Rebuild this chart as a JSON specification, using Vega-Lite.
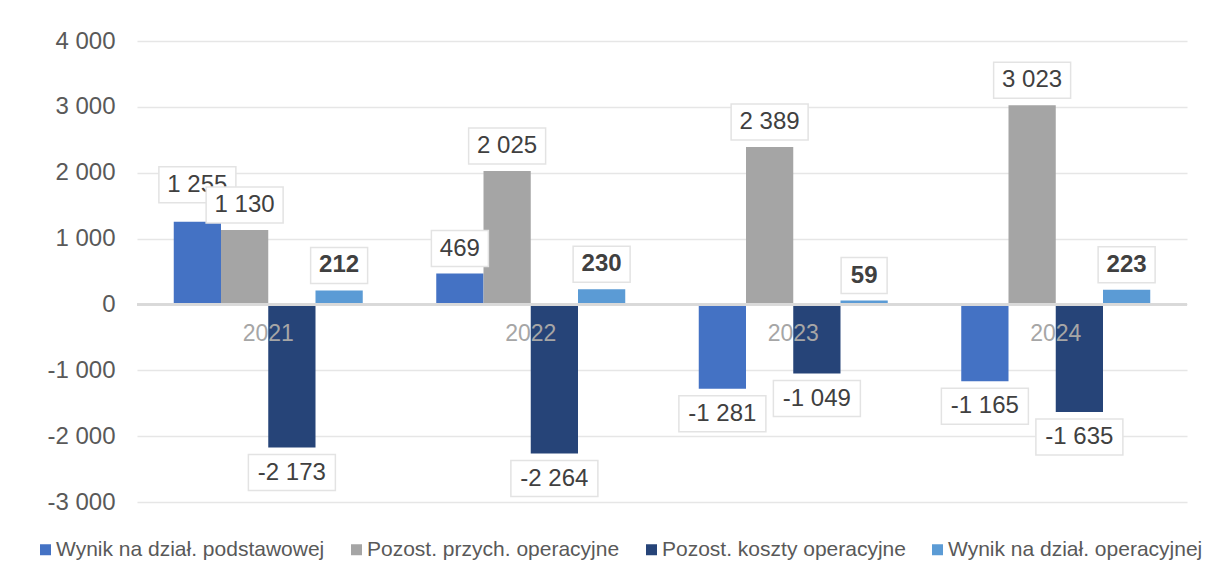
{
  "$schema": "https://vega.github.io/schema/vega-lite/v6.json",
  "autosize": "none",
  "width": 1050,
  "height": 461,
  "padding": {"left": 137, "top": 41, "right": 18, "bottom": 72},
  "background": "white",
  "config": {
    "locale": {"number": {"decimal": ",", "thousands": " ", "grouping": [3], "currency": ["", " zł"], "minus": "-"}},
    "view": {"stroke": null},
    "font": "Liberation Sans"
  },
  "data": {
    "values": [
      {"year": "2021", "series": "Wynik na dział. podstawowej", "value": 1255},
      {"year": "2021", "series": "Pozost. przych. operacyjne", "value": 1130},
      {"year": "2021", "series": "Pozost. koszty operacyjne", "value": -2173},
      {"year": "2021", "series": "Wynik na dział. operacyjnej", "value": 212},
      {"year": "2022", "series": "Wynik na dział. podstawowej", "value": 469},
      {"year": "2022", "series": "Pozost. przych. operacyjne", "value": 2025},
      {"year": "2022", "series": "Pozost. koszty operacyjne", "value": -2264},
      {"year": "2022", "series": "Wynik na dział. operacyjnej", "value": 230},
      {"year": "2023", "series": "Wynik na dział. podstawowej", "value": -1281},
      {"year": "2023", "series": "Pozost. przych. operacyjne", "value": 2389},
      {"year": "2023", "series": "Pozost. koszty operacyjne", "value": -1049},
      {"year": "2023", "series": "Wynik na dział. operacyjnej", "value": 59},
      {"year": "2024", "series": "Wynik na dział. podstawowej", "value": -1165},
      {"year": "2024", "series": "Pozost. przych. operacyjne", "value": 3023},
      {"year": "2024", "series": "Pozost. koszty operacyjne", "value": -1635},
      {"year": "2024", "series": "Wynik na dział. operacyjnej", "value": 223}
    ]
  },
  "encoding": {
    "x": {"field": "year", "type": "nominal", "axis": null, "scale": {"paddingInner": 0.28, "paddingOuter": 0.14}},
    "y": {"field": "value", "type": "quantitative", "scale": {"domain": [-3000, 4000], "nice": false, "zero": false}}
  },
  "layer": [
    {
      "mark": {"type": "bar"},
      "encoding": {
        "xOffset": {"field": "series", "type": "nominal", "sort": ["Wynik na dział. podstawowej", "Pozost. przych. operacyjne", "Pozost. koszty operacyjne", "Wynik na dział. operacyjnej"], "scale": {"paddingInner": 0, "paddingOuter": 0}},
        "y": {"field": "value", "type": "quantitative", "axis": {"values": [-3000, -2000, -1000, 0, 1000, 2000, 3000, 4000], "format": ",d", "title": null, "domain": false, "ticks": false, "labelPadding": 22, "labelFontSize": 24, "labelColor": "#595959", "labelFont": "Liberation Sans", "gridColor": "#e6e6e6", "gridWidth": 1.3, "labelFlush": false}},
        "color": {
          "field": "series", "type": "nominal",
          "scale": {"domain": ["Wynik na dział. podstawowej", "Pozost. przych. operacyjne", "Pozost. koszty operacyjne", "Wynik na dział. operacyjnej"], "range": ["#4472c4", "#a5a5a5", "#264478", "#5b9bd5"]},
          "legend": {"title": null, "orient": "none", "legendX": -102, "legendY": 498, "direction": "horizontal", "columns": 4, "symbolType": "square", "symbolSize": 121, "symbolStrokeWidth": 0, "labelFontSize": 21, "labelColor": "#595959", "labelFont": "Liberation Sans", "labelLimit": 0, "columnPadding": 21, "labelOffset": 0}
        }
      }
    },
    {
      "mark": {"type": "rule", "color": "#d9d9d9", "strokeWidth": 2},
      "encoding": {"x": {"value": 0}, "x2": {"value": 1050}, "y": {"datum": 0}}
    },
    {
      "transform": [{"filter": "datum.series == 'Wynik na dział. podstawowej'"}],
      "mark": {"type": "text", "fontSize": 23, "color": "#a6a6a6", "dy": 30, "baseline": "middle", "font": "Liberation Sans"},
      "encoding": {"y": {"datum": 0}, "text": {"field": "year"}}
    },
    {
      "transform": [{"filter": "datum.series == 'Wynik na dział. podstawowej'"}],
      "mark": {"type": "point", "filled": true, "fill": "white", "stroke": "#e3e3e3", "strokeWidth": 1.5, "size": 400, "opacity": 1},
      "encoding": {
        "xOffset": {"field": "series", "type": "nominal", "sort": ["Wynik na dział. podstawowej", "Pozost. przych. operacyjne", "Pozost. koszty operacyjne", "Wynik na dział. operacyjnej"]},
        "shape": {"condition": [
          {"test": "datum.year == '2021'", "value": "M-3.85,-5.5H3.85V-1.9H-3.85Z"},
          {"test": "datum.value <= -1000", "value": "M-4.35,0.7H4.35V4.3H-4.35Z"},
          {"test": "datum.value >= 1000", "value": "M-3.85,-4.3H3.85V-0.7H-3.85Z"},
          {"test": "datum.value >= 100", "value": "M-2.85,-4.3H2.85V-0.7H-2.85Z"}
        ], "value": "M-2.3,-4.3H2.3V-0.7H-2.3Z"}
      }
    },
    {
      "transform": [{"filter": "datum.series == 'Wynik na dział. podstawowej' && datum.year == '2021'"}],
      "mark": {"type": "text", "fontSize": 24, "color": "#404040", "dy": -37, "baseline": "middle", "font": "Liberation Sans"},
      "encoding": {
        "xOffset": {"field": "series", "type": "nominal", "sort": ["Wynik na dział. podstawowej", "Pozost. przych. operacyjne", "Pozost. koszty operacyjne", "Wynik na dział. operacyjnej"]},
        "text": {"field": "value", "type": "quantitative", "format": ",d"}
      }
    },
    {
      "transform": [{"filter": "datum.series == 'Wynik na dział. podstawowej' && datum.year != '2021' && datum.value >= 0"}],
      "mark": {"type": "text", "fontSize": 24, "color": "#404040", "dy": -25, "baseline": "middle", "font": "Liberation Sans"},
      "encoding": {
        "xOffset": {"field": "series", "type": "nominal", "sort": ["Wynik na dział. podstawowej", "Pozost. przych. operacyjne", "Pozost. koszty operacyjne", "Wynik na dział. operacyjnej"]},
        "text": {"field": "value", "type": "quantitative", "format": ",d"}
      }
    },
    {
      "transform": [{"filter": "datum.series == 'Wynik na dział. podstawowej' && datum.value < 0"}],
      "mark": {"type": "text", "fontSize": 24, "color": "#404040", "dy": 25, "baseline": "middle", "font": "Liberation Sans"},
      "encoding": {
        "xOffset": {"field": "series", "type": "nominal", "sort": ["Wynik na dział. podstawowej", "Pozost. przych. operacyjne", "Pozost. koszty operacyjne", "Wynik na dział. operacyjnej"]},
        "text": {"field": "value", "type": "quantitative", "format": ",d"}
      }
    },
    {
      "transform": [{"filter": "datum.series != 'Wynik na dział. podstawowej'"}],
      "mark": {"type": "point", "filled": true, "fill": "white", "stroke": "#e3e3e3", "strokeWidth": 1.5, "size": 400, "opacity": 1},
      "encoding": {
        "xOffset": {"field": "series", "type": "nominal", "sort": ["Wynik na dział. podstawowej", "Pozost. przych. operacyjne", "Pozost. koszty operacyjne", "Wynik na dział. operacyjnej"]},
        "shape": {"condition": [
          {"test": "datum.value <= -1000", "value": "M-4.35,0.7H4.35V4.3H-4.35Z"},
          {"test": "datum.value >= 1000", "value": "M-3.85,-4.3H3.85V-0.7H-3.85Z"},
          {"test": "datum.value >= 100", "value": "M-2.85,-4.3H2.85V-0.7H-2.85Z"}
        ], "value": "M-2.3,-4.3H2.3V-0.7H-2.3Z"}
      }
    },
    {
      "transform": [{"filter": "(datum.series == 'Pozost. przych. operacyjne' || datum.series == 'Pozost. koszty operacyjne') && datum.value >= 0"}],
      "mark": {"type": "text", "fontSize": 24, "color": "#404040", "dy": -25, "baseline": "middle", "font": "Liberation Sans"},
      "encoding": {
        "xOffset": {"field": "series", "type": "nominal", "sort": ["Wynik na dział. podstawowej", "Pozost. przych. operacyjne", "Pozost. koszty operacyjne", "Wynik na dział. operacyjnej"]},
        "text": {"field": "value", "type": "quantitative", "format": ",d"}
      }
    },
    {
      "transform": [{"filter": "(datum.series == 'Pozost. przych. operacyjne' || datum.series == 'Pozost. koszty operacyjne') && datum.value < 0"}],
      "mark": {"type": "text", "fontSize": 24, "color": "#404040", "dy": 25, "baseline": "middle", "font": "Liberation Sans"},
      "encoding": {
        "xOffset": {"field": "series", "type": "nominal", "sort": ["Wynik na dział. podstawowej", "Pozost. przych. operacyjne", "Pozost. koszty operacyjne", "Wynik na dział. operacyjnej"]},
        "text": {"field": "value", "type": "quantitative", "format": ",d"}
      }
    },
    {
      "transform": [{"filter": "datum.series == 'Wynik na dział. operacyjnej'"}],
      "mark": {"type": "text", "fontSize": 24, "fontWeight": "bold", "color": "#404040", "dy": -25, "baseline": "middle", "font": "Liberation Sans"},
      "encoding": {
        "xOffset": {"field": "series", "type": "nominal", "sort": ["Wynik na dział. podstawowej", "Pozost. przych. operacyjne", "Pozost. koszty operacyjne", "Wynik na dział. operacyjnej"]},
        "text": {"field": "value", "type": "quantitative", "format": ",d"}
      }
    }
  ]
}
